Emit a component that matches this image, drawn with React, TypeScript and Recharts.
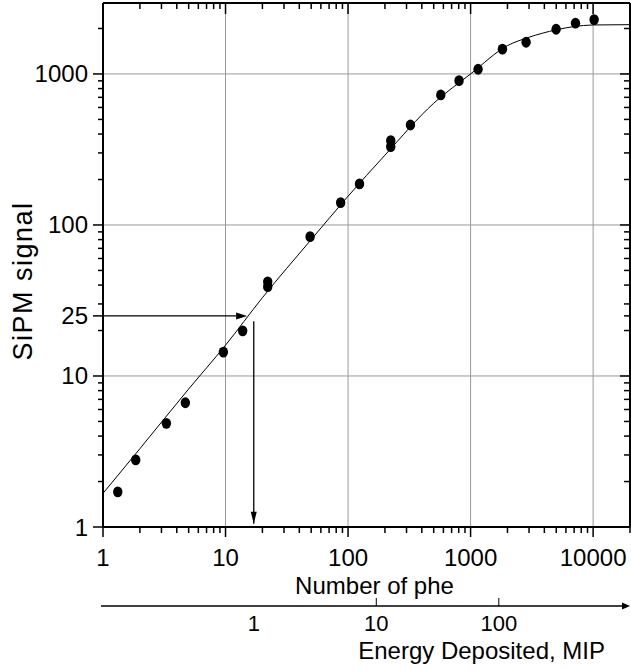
import React from 'react';
import { ComposedChart, Line, Scatter, XAxis, YAxis, CartesianGrid, ReferenceLine } from 'recharts';

const FONT = '"Liberation Sans", Arial, Helvetica, sans-serif';

// measured points: number of photoelectrons vs SiPM signal
const phe = [1.32, 1.85, 3.29, 4.7, 9.6, 13.8, 22.1, 22.1, 49, 87, 124, 223, 223, 323, 571, 805, 1151, 1820, 2838, 4990, 7180, 10190];
const signal = [1.71, 2.78, 4.86, 6.65, 14.4, 19.9, 42, 39, 83.7, 140.6, 187, 362, 330, 459, 726, 903, 1074, 1459, 1622, 1977, 2168, 2290];

// fitted response curve
const fitPhe = [1, 2, 5, 10, 20, 50, 100, 200, 500, 1000, 2000, 3000, 5000, 7000, 10000, 20000];
const fitSignal = [1.67, 3.3, 8.2, 16, 33, 80, 155, 290, 640, 1000, 1540, 1750, 1960, 2060, 2110, 2120];

const xTicks = [1, 2, 3, 4, 5, 6, 7, 8, 9, 10, 20, 30, 40, 50, 60, 70, 80, 90, 100, 200, 300, 400, 500, 600, 700, 800, 900,
  1000, 2000, 3000, 4000, 5000, 6000, 7000, 8000, 9000, 10000, 20000];
const xLabels = [1, 10, 100, 1000, 10000];
const yTicks = [1, 2, 3, 4, 5, 6, 7, 8, 9, 10, 20, 25, 30, 40, 50, 60, 70, 80, 90, 100, 200, 300, 400, 500, 600, 700, 800, 900, 1000, 2000];
const yLabels = [1, 10, 25, 100, 1000];
const gridX = [10, 100, 1000, 10000];
const gridY = [10, 100, 1000];
const mipTicks = [1, 10, 100];

const PHE_PER_MIP = 17;
const X_DOMAIN = [1, 20000];
const Y_DOMAIN = [1, 2950];

// read-off arrows: signal 25 -> curve -> 1 MIP
const readSignal = 25;
const readPhe = 15;
const readMip = [1, 1];
const readDrop = [23, 1.05];

const points = phe.map((x, i) => ({ x, y: signal[i] }));
const fit = fitPhe.map((x, i) => ({ x, y: fitSignal[i] }));
const drop = readMip.map((x, i) => ({ x, y: readDrop[i] }));

const txt = { fontFamily: FONT, fill: '#000' };

const LeftTick = ({ x, y, payload }: any) => {
  const major = yLabels.includes(payload.value);
  return (
    <g>
      <line x1={x - (major ? 10 : 5)} x2={x} y1={y} y2={y} stroke="#000" strokeWidth={1.5} />
      {major && (
        <text x={x - 15} y={y} textAnchor="end" dominantBaseline="central" fontSize={24} {...txt}>
          {payload.value}
        </text>
      )}
    </g>
  );
};

const RightTick = ({ x, y, payload }: any) => {
  const major = gridY.includes(payload.value);
  return <line x1={x - (major ? 10 : 6)} x2={x} y1={y} y2={y} stroke="#000" strokeWidth={1.5} />;
};

const TopTick = ({ x, y, payload }: any) => {
  const major = gridX.includes(payload.value);
  return <line x1={x} x2={x} y1={y} y2={y + (major ? 11 : 6)} stroke="#000" strokeWidth={1.5} />;
};

const BottomTick = ({ x, y, payload }: any) => {
  const major = xLabels.includes(payload.value);
  return (
    <g>
      <line x1={x} x2={x} y1={y} y2={y + (major ? 10 : 6)} stroke="#000" strokeWidth={1.5} />
      {major && (
        <text x={x} y={y + 30} textAnchor="middle" dominantBaseline="central" fontSize={24} {...txt}>
          {payload.value}
        </text>
      )}
    </g>
  );
};

const MipTick = ({ x, y, payload }: any) => (
  <g>
    {payload.value !== 1 && <line x1={x} x2={x} y1={y} y2={y - 8} stroke="#000" strokeWidth={1} />}
    <text x={x} y={y + 17} textAnchor="middle" dominantBaseline="central" fontSize={22} {...txt}>
      {payload.value}
    </text>
  </g>
);

const YTitle = ({ viewBox }: any) => {
  const vb = viewBox ?? { x: 0, y: 3, width: 103, height: 524 };
  const cx = vb.x + 23;
  const cy = vb.y + vb.height / 2 + 16;
  return (
    <text x={cx} y={cy} transform={`rotate(-90 ${cx} ${cy})`} textAnchor="middle" dominantBaseline="central"
      fontSize={27} letterSpacing={1.5} {...txt}>
      SiPM signal
    </text>
  );
};

const XTitle = ({ viewBox }: any) => {
  const vb = viewBox ?? { x: 103, y: 527, width: 527, height: 79 };
  return (
    <text x={vb.x + vb.width / 2 + 8} y={vb.y + 58} textAnchor="middle" dominantBaseline="central" fontSize={24} {...txt}>
      Number of phe
    </text>
  );
};

const MipTitle = ({ viewBox }: any) => {
  const vb = viewBox ?? { x: 103, y: 606, width: 527, height: 64 };
  const end = vb.x + vb.width;
  const y = vb.y;
  return (
    <g>
      <line x1={vb.x - 2} x2={end - 6} y1={y} y2={y} stroke="#000" strokeWidth={1.5} />
      <polygon points={`${end},${y} ${end - 8},${y - 3.5} ${end - 8},${y + 3.5}`} fill="#000" />
      <text x={end - 25} y={y + 44} textAnchor="end" dominantBaseline="central" fontSize={24} {...txt}>
        Energy Deposited, MIP
      </text>
    </g>
  );
};

const Arrow = (p: any) => {
  const { x1, y1, x2, y2 } = p;
  const dx = x2 - x1;
  const dy = y2 - y1;
  const len = Math.hypot(dx, dy) || 1;
  const ux = dx / len;
  const uy = dy / len;
  const bx = x2 - ux * 11;
  const by = y2 - uy * 11;
  const pts = `${x2},${y2} ${bx - uy * 3.5},${by + ux * 3.5} ${bx + uy * 3.5},${by - ux * 3.5}`;
  return (
    <g>
      <line x1={x1} y1={y1} x2={bx} y2={by} stroke="#000" strokeWidth={1.3} />
      <polygon points={pts} fill="#000" />
    </g>
  );
};

// arrowhead at the lower end of the drop line, nothing at the top
const DropHead = ({ cx, cy, payload }: any) =>
  payload && payload.y === readDrop[1] ? (
    <polygon points={`${cx},${cy} ${cx - 3},${cy - 12} ${cx + 3},${cy - 12}`} fill="#000" />
  ) : (
    <g />
  );

const Dot = ({ cx, cy }: any) => <ellipse cx={cx} cy={cy} rx={4.7} ry={5.4} fill="#000" />;

const axisLine = { stroke: '#000', strokeWidth: 2 };

export default function App() {
  return (
    <div style={{ position: 'absolute', left: 0, top: 0, background: '#fff' }}>
      <ComposedChart width={631} height={670} margin={{ top: 0, right: 0, bottom: 0, left: 0 }}>
        <CartesianGrid xAxisId="b1" yAxisId="left" stroke="#999" strokeWidth={1}
          horizontalValues={gridY} verticalValues={gridX} />
        <XAxis xAxisId="top" orientation="top" dataKey="x" type="number" scale="log" domain={X_DOMAIN}
          allowDataOverflow ticks={xTicks} interval={0} height={3} tickSize={0} tickMargin={0}
          tickLine={false} axisLine={axisLine} tick={<TopTick />} />
        <XAxis xAxisId="b2" orientation="bottom" dataKey="x" type="number" scale="log"
          domain={[X_DOMAIN[0] / PHE_PER_MIP, X_DOMAIN[1] / PHE_PER_MIP]}
          allowDataOverflow ticks={mipTicks} interval={0} height={64} tickSize={0} tickMargin={0}
          tickLine={false} axisLine={false} tick={<MipTick />} label={<MipTitle />} />
        <XAxis xAxisId="b1" orientation="bottom" dataKey="x" type="number" scale="log" domain={X_DOMAIN}
          allowDataOverflow ticks={xTicks} interval={0} height={79} tickSize={0} tickMargin={0}
          tickLine={false} axisLine={axisLine} tick={<BottomTick />} label={<XTitle />} />
        <YAxis yAxisId="left" orientation="left" dataKey="y" type="number" scale="log" domain={Y_DOMAIN}
          allowDataOverflow ticks={yTicks} interval={0} width={103} tickSize={0} tickMargin={0}
          tickLine={false} axisLine={axisLine} tick={<LeftTick />} label={<YTitle />} />
        <YAxis yAxisId="right" orientation="right" dataKey="y" type="number" scale="log" domain={Y_DOMAIN}
          allowDataOverflow ticks={yTicks} interval={0} width={1} tickSize={0} tickMargin={0}
          tickLine={false} axisLine={axisLine} tick={<RightTick />} />
        <Line xAxisId="top" yAxisId="right" data={fit} dataKey="y" type="monotone" stroke="#000"
          strokeWidth={1} dot={false} activeDot={false} isAnimationActive={false} />
        <Scatter xAxisId="b1" yAxisId="left" data={points} dataKey="y" shape={<Dot />} isAnimationActive={false} />
        <Scatter xAxisId="b2" yAxisId="left" data={drop} dataKey="y" line={{ stroke: '#000', strokeWidth: 1.3 }}
          shape={<DropHead />} isAnimationActive={false} />
        <ReferenceLine xAxisId="b1" yAxisId="left" ifOverflow="visible"
          segment={[{ x: 1, y: readSignal }, { x: readPhe, y: readSignal }]} shape={Arrow} />
      </ComposedChart>
    </div>
  );
}
